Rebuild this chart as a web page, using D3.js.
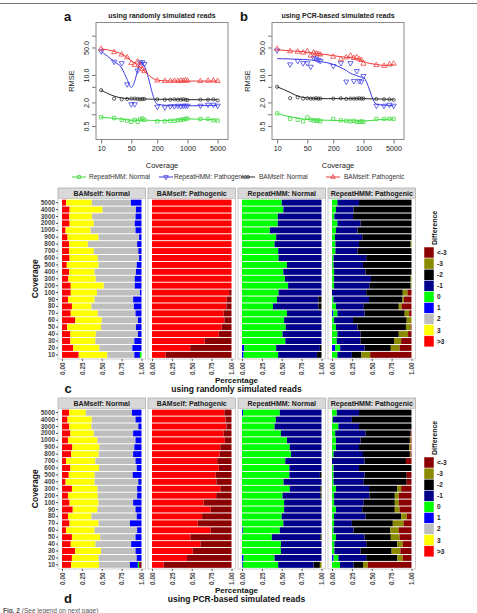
<!DOCTYPE html>
<html><head><meta charset="utf-8">
<script src="https://cdn.jsdelivr.net/npm/d3@7"></script>
<style>body{margin:0;background:#fff}svg{display:block;font-family:"Liberation Sans",Arial,sans-serif}</style>
</head><body>
<svg id="chart" width="477" height="613"></svg>
<script>
// ---------- line chart data (panels a, b) ----------
const coverage=[10,20,30,40,50,60,70,80,90,100,200,300,400,500,600,700,800,900,1000,2000,3000,4000,5000];
const xTickValues=[10,50,200,1000,5000];
const yTickMarks=[0.5,1,2,5,10,50,100];
const yTickLabels=[0.5,2,10,50];
const seriesNames=["RepeatHMM: Normal","RepeatHMM: Pathogenic","BAMself: Normal","BAMself: Pathogenic"];
const seriesColors=["#3cdc3c","#3a3ae8","#2a2a2a","#f03a3a"];
const seriesShapes=["square","down","circle","up"];

const aHmmNormal=[0.84,0.8,0.72,0.69,0.64,0.72,0.64,0.74,0.78,0.72,0.66,0.66,0.68,0.68,0.7,0.72,0.74,0.76,0.78,0.76,0.76,0.7,0.69];
const aHmmPath=[40,21.7,20,5.8,1.8,1.8,13,21,21,19,1.55,1.5,1.6,1.6,1.65,1.6,1.65,1.65,1.65,1.65,1.75,1.75,1.65];
const aBamNormal=[4.1,2.5,2.4,2.45,2.5,2.5,2.45,2.4,2.45,2.45,2.4,2.35,2.35,2.4,2.35,2.35,2.4,2.35,2.3,2.35,2.35,2.4,2.25];
const aBamPath=[46,38,33,28,20,18,22,17,14,12.5,7.2,7.0,7.0,7.1,7.0,7.2,7.1,7.3,7.1,7.0,7.1,7.2,7.0];
const aHmmNormalFit=[0.84,0.79,0.75,0.72,0.71,0.71,0.71,0.71,0.71,0.71,0.69,0.69,0.7,0.71,0.72,0.73,0.74,0.75,0.76,0.75,0.74,0.72,0.71];
const aHmmPathFit=[40,22,15,7.7,4.8,7,13,21,20,17,1.8,1.7,1.65,1.65,1.65,1.65,1.65,1.65,1.65,1.65,1.68,1.68,1.66];
const aBamNormalFit=[4.1,2.9,2.6,2.5,2.45,2.45,2.45,2.45,2.45,2.45,2.4,2.4,2.4,2.4,2.4,2.4,2.4,2.4,2.35,2.35,2.35,2.35,2.35];
const aBamPathFit=[46,40,34,28,23,20,18,16,14,12.5,7.4,7.1,7.0,7.0,7.0,7.0,7.0,7.0,7.0,7.0,7.0,7.0,7.0];

const bHmmNormal=[1.05,0.77,0.72,0.66,0.83,0.73,0.7,0.68,0.7,0.66,0.76,0.7,0.68,0.66,0.68,0.64,0.64,0.66,0.64,0.76,0.76,0.77,0.76];
const bHmmPath=[42,18.6,22.6,20,20,16.2,27.4,26,24,22.6,16.9,20,6.8,20,7.0,12.6,7.0,6.8,9.4,1.65,1.65,1.75,1.65];
const bBamNormal=[5.0,2.57,2.7,2.5,2.55,2.5,2.5,2.55,2.5,2.5,2.5,2.55,2.45,2.5,2.5,2.5,2.55,2.5,2.5,2.45,2.4,2.4,2.33];
const bBamPath=[46,40,39,37,40,31,37,35,34,33,29,25,28,31,27,28,25,24,19.3,17.9,17,18.6,19.3];
const bHmmNormalFit=[1.05,0.86,0.8,0.76,0.74,0.73,0.72,0.72,0.71,0.71,0.7,0.69,0.68,0.68,0.68,0.67,0.67,0.67,0.67,0.72,0.74,0.75,0.76];
const bHmmPathFit=[26,25.5,25,24.8,24.5,24,23.5,23,22.5,22,18.6,15.3,13,11,10.2,9.6,9.1,8.8,8.6,1.8,1.7,1.68,1.65];
const bBamNormalFit=[5.0,3.6,2.9,2.7,2.6,2.55,2.55,2.5,2.5,2.5,2.5,2.5,2.5,2.5,2.5,2.5,2.5,2.5,2.5,2.45,2.42,2.4,2.38];
const bBamPathFit=[44,41,40,39,38,37,36,35.5,35,34.5,31,29,28,27.5,27,26,25,23.5,22,18.5,17.5,17.8,18.5];

// ---------- stacked bar data (panels c, d) ----------
const diffKeys=[">3","3","2","1","0","-1","-2","-3","<-3"];
const diffColors=["#ff0000","#ffff00","#bebebe","#0000ff","#00ff00","#00008b","#000000","#8b8b00","#8b0000"];
const rowLabels=["5000","4000","3000","2000","1000","900","800","700","600","500","400","300","200","100","90","80","70","60","50","40","30","20","10"];
const facetNames=["BAMself: Normal","BAMself: Pathogenic","RepeatHMM: Normal","RepeatHMM: Pathogenic"];
const pctTicks=[0,0.25,0.5,0.75,1];

const cBamNormal=[
[.05,.325,.492,.133,0,0,0,0,0],[.096,.414,.42,.07,0,0,0,0,0],[.09,.29,.545,.075,0,0,0,0,0],[.096,.304,.515,.085,0,0,0,0,0],
[.045,.315,.565,.075,0,0,0,0,0],[.07,.39,.51,.03,0,0,0,0,0],[.09,.235,.62,.055,0,0,0,0,0],[.09,.31,.56,.04,0,0,0,0,0],
[.096,.354,.52,.03,0,0,0,0,0],[.06,.40,.48,.06,0,0,0,0,0],[.09,.32,.52,.07,0,0,0,0,0],[.08,.345,.49,.085,0,0,0,0,0],
[.11,.415,.39,.085,0,0,0,0,0],[.11,.33,.54,.02,0,0,0,0,0],[.075,.335,.485,.105,0,0,0,0,0],[.125,.245,.535,.095,0,0,0,0,0],
[.11,.34,.475,.075,0,0,0,0,0],[.165,.335,.455,.045,0,0,0,0,0],[.065,.425,.44,.07,0,0,0,0,0],[.105,.32,.53,.045,0,0,0,0,0],
[.105,.315,.49,.09,0,0,0,0,0],[.14,.33,.415,.115,0,0,0,0,0],[.21,.36,.34,.07,.02,0,0,0,0]];
const cBamPath=[
[1,0,0,0,0,0,0,0,0],[1,0,0,0,0,0,0,0,0],[1,0,0,0,0,0,0,0,0],[1,0,0,0,0,0,0,0,0],[1,0,0,0,0,0,0,0,0],
[1,0,0,0,0,0,0,0,0],[1,0,0,0,0,0,0,0,0],[1,0,0,0,0,0,0,0,0],[1,0,0,0,0,0,0,0,0],[1,0,0,0,0,0,0,0,0],
[1,0,0,0,0,0,0,0,0],[1,0,0,0,0,0,0,0,0],[1,0,0,0,0,0,0,0,0],[.97,0,0,0,0,0,0,0,.03],[.94,0,0,0,0,0,0,0,.06],
[.935,0,0,0,0,0,0,0,.065],[.90,0,0,0,0,0,0,0,.10],[.91,0,0,0,0,0,0,0,.09],[.875,0,0,0,0,0,0,0,.125],
[.84,0,0,0,0,0,0,0,.16],[.66,0,0,0,0,0,0,0,.34],[.48,0,0,0,0,0,0,0,.52],[.17,0,0,0,0,0,0,0,.83]];
const cHmmNormal=[
[0,0,0,0,.50,.50,0,0,0],[0,0,0,0,.52,.48,0,0,0],[0,0,0,0,.45,.55,0,0,0],[0,0,0,0,.45,.55,0,0,0],
[0,0,0,0,.35,.65,0,0,0],[0,0,0,0,.43,.57,0,0,0],[0,0,0,0,.41,.59,0,0,0],[0,0,0,0,.455,.545,0,0,0],
[0,0,0,0,.46,.54,0,0,0],[0,0,0,0,.565,.435,0,0,0],[0,0,0,0,.52,.48,0,0,0],[0,0,0,0,.54,.46,0,0,0],
[0,0,0,0,.58,.42,0,0,0],[0,0,0,0,.46,.54,0,0,0],[0,0,0,0,.44,.52,.04,0,0],[0,0,0,0,.39,.57,.04,0,0],
[0,0,0,0,.565,.435,0,0,0],[0,0,0,0,.53,.47,0,0,0],[0,0,0,0,.55,.45,0,0,0],[0,0,0,0,.51,.49,0,0,0],
[0,0,0,0,.545,.455,0,0,0],[0,0,0,.03,.40,.55,.02,0,0],[0,0,0,.02,.435,.49,.055,0,0]];
const cHmmPath=[
[0,0,0,0,.068,.272,.66,0,0],[0,0,0,0,.05,.22,.73,0,0],[0,0,0,0,.03,.235,.735,0,0],[0,0,0,0,.068,.292,.64,0,0],
[0,0,0,0,.05,.27,.68,0,0],[0,0,0,0,.038,.342,.62,0,0],[0,0,0,0,.043,.297,.65,.01,0],[0,0,0,0,.043,.277,.68,0,0],
[0,0,0,0,.02,.41,.57,0,0],[0,0,0,0,.02,.37,.61,0,0],[0,0,0,0,.026,.394,.58,0,0],[0,0,0,0,.026,.464,.50,.01,0],
[0,0,0,0,.026,.444,.52,.01,0],[0,0,0,0,0,.43,.46,.06,.05],[0,0,0,0,.017,.449,.42,.02,.094],[0,0,0,0,.05,.35,.44,.036,.124],
[0,0,0,.017,.051,.342,.505,.055,.03],[0,0,0,0,.026,.239,.675,.06,0],[0,0,0,0,.05,.27,.61,.06,.01],[0,0,0,0,.068,.292,.48,.117,.043],
[0,0,0,0,.06,.30,.42,.09,.13],[0,0,0,.04,.063,.307,.33,.11,.15],[0,0,0,0,.068,.182,.12,.11,.52]];

const dBamNormal=[
[.09,.21,.58,.12,0,0,0,0,0],[.07,.305,.55,.075,0,0,0,0,0],[.09,.28,.59,.04,0,0,0,0,0],[.105,.295,.495,.105,0,0,0,0,0],
[.075,.37,.48,.075,0,0,0,0,0],[.13,.34,.44,.09,0,0,0,0,0],[.115,.345,.435,.105,0,0,0,0,0],[.05,.37,.505,.075,0,0,0,0,0],
[.105,.36,.475,.06,0,0,0,0,0],[.085,.325,.48,.11,0,0,0,0,0],[.045,.365,.55,.04,0,0,0,0,0],[.125,.32,.50,.055,0,0,0,0,0],
[.075,.375,.495,.055,0,0,0,0,0],[.095,.365,.435,.105,0,0,0,0,0],[.135,.31,.48,.075,0,0,0,0,0],[.075,.295,.57,.06,0,0,0,0,0],
[.095,.365,.395,.145,0,0,0,0,0],[.05,.36,.535,.055,0,0,0,0,0],[.125,.355,.445,.075,0,0,0,0,0],[.11,.31,.45,.13,0,0,0,0,0],
[.165,.325,.435,.075,0,0,0,0,0],[.125,.335,.48,.06,0,0,0,0,0],[.115,.35,.39,.10,.015,0,0,0,.03]];
const dBamPath=[
[.91,0,0,0,0,0,0,0,.09],[.925,0,0,0,0,0,0,0,.075],[.937,0,0,0,0,0,0,0,.063],[.90,0,0,0,0,0,0,0,.10],
[.916,0,0,0,0,0,0,0,.084],[.86,0,0,0,0,0,0,0,.14],[.85,0,0,0,0,0,0,0,.15],[.82,0,0,0,0,0,0,0,.18],
[.84,0,0,0,0,0,0,0,.16],[.80,0,0,0,0,0,0,0,.20],[.81,0,0,0,0,0,0,0,.19],[.86,0,0,0,0,0,0,0,.14],
[.807,0,0,0,0,0,0,0,.193],[.65,0,0,0,0,0,0,0,.35],[.735,0,0,0,0,0,0,0,.265],[.63,0,0,0,0,0,0,0,.37],
[.576,0,0,0,0,0,0,0,.424],[.735,0,0,0,0,0,0,0,.265],[.483,0,0,0,0,0,0,0,.517],[.61,0,0,0,0,0,0,0,.39],
[.513,0,0,0,0,0,0,0,.487],[.44,0,0,0,0,0,0,0,.56],[.147,0,0,0,0,0,0,0,.853]];
const dHmmNormal=[
[0,0,0,.013,.462,.525,0,0,0],[0,0,0,0,.425,.575,0,0,0],[0,0,0,0,.41,.59,0,0,0],[0,0,0,0,.49,.51,0,0,0],
[0,0,0,0,.565,.435,0,0,0],[0,0,0,0,.60,.40,0,0,0],[0,0,0,0,.617,.383,0,0,0],[0,0,0,0,.545,.455,0,0,0],
[0,0,0,0,.596,.404,0,0,0],[0,0,0,0,.596,.384,.02,0,0],[0,0,0,0,.523,.477,0,0,0],[0,0,0,0,.60,.385,.015,0,0],
[0,0,0,0,.51,.475,.015,0,0],[0,0,0,0,.53,.47,0,0,0],[0,0,0,0,.53,.47,0,0,0],[0,0,0,0,.50,.50,0,0,0],
[0,0,0,0,.52,.48,0,0,0],[0,0,0,.01,.465,.525,0,0,0],[0,0,0,0,.375,.61,.015,0,0],[0,0,0,0,.49,.51,0,0,0],
[0,0,0,0,.49,.51,0,0,0],[0,0,0,.02,.39,.59,0,0,0],[0,0,0,.01,.445,.445,.08,.02,0]];
const dHmmPath=[
[0,0,0,0,.06,.28,.66,0,0],[0,0,0,0,.01,.24,.75,0,0],[0,0,0,0,.08,.26,.66,0,0],[0,0,0,0,.04,.38,.57,0,.01],
[0,0,0,0,.05,.31,.62,.01,.01],[0,0,0,0,.05,.29,.63,.02,.01],[0,0,0,0,.02,.37,.59,.01,.01],[0,0,0,0,0,.41,.52,0,.07],
[0,0,0,0,.02,.32,.66,0,0],[0,0,0,0,.02,.39,.53,0,.06],[0,0,0,0,.02,.38,.54,0,.06],[0,0,0,0,.05,.416,.354,.05,.13],
[0,0,0,0,.026,.444,.32,.05,.16],[0,0,0,0,.026,.374,.39,.05,.16],[0,0,0,0,.05,.33,.41,.06,.15],[0,0,0,0,.026,.394,.45,.07,.06],
[0,0,0,0,.026,.224,.515,.135,.10],[0,0,0,0,.02,.25,.465,.105,.16],[0,0,0,0,.05,.36,.33,.11,.15],[0,0,0,0,.03,.40,.39,.07,.11],
[0,0,0,0,.03,.33,.39,.11,.14],[0,0,0,.02,.06,.35,.39,.07,.11],[0,0,0,0,.10,.17,.12,.06,.55]];

// ---------- drawing ----------
const svg=d3.select("#chart");
svg.append("line").attr("x1",0).attr("x2",477).attr("y1",3.5).attr("y2",3.5).attr("stroke","#777").attr("stroke-width",1);

function markerPath(shape,size){
  if(shape==="square") return d3.symbol(d3.symbolSquare,size)();
  if(shape==="circle") return d3.symbol(d3.symbolCircle,size*0.75)();
  return d3.symbol(d3.symbolTriangle,size*1.05)();
}

function linePanel(left,letter,title,points,fits){
  const top=22.5,h=117,w=132;
  const x=d3.scaleLog().domain([7.6,8700]).range([left,left+w]);
  const y=d3.scaleLog().domain([0.228,216]).range([top+h,top]);
  const g=svg.append("g");
  g.append("text").attr("x",left-32).attr("y",20.5).attr("font-size",13).attr("font-weight","bold").attr("fill","#111").text(letter);
  g.append("text").attr("x",left+w/2).attr("y",17.5).attr("text-anchor","middle").attr("font-size",7).attr("font-weight","bold").attr("fill","#222").text(title);
  const ya=g.append("g").attr("transform",`translate(${left},0)`)
    .call(d3.axisLeft(y).tickValues(yTickMarks).tickSize(4).tickFormat(v=>yTickLabels.includes(v)?d3.format(".1f")(v):""));
  ya.select(".domain").remove();
  ya.selectAll("line").attr("stroke","#777");
  ya.selectAll("text").attr("transform","rotate(-90)").attr("x",0).attr("y",-7.5).attr("dy",0).attr("text-anchor","middle")
    .attr("font-size",7.2).attr("font-family","Liberation Sans, Arial, sans-serif").attr("fill","#222");
  const xa=g.append("g").attr("transform",`translate(0,${top+h})`)
    .call(d3.axisBottom(x).tickValues(xTickValues).tickSize(4).tickFormat(d3.format("d")));
  xa.select(".domain").remove();
  xa.selectAll("line").attr("stroke","#777");
  xa.selectAll("text").attr("font-size",7.2).attr("font-family","Liberation Sans, Arial, sans-serif").attr("fill","#222").attr("y",6.5);
  g.append("rect").attr("x",left).attr("y",top).attr("width",w).attr("height",h).attr("fill","none").attr("stroke","#8a8a8a").attr("stroke-width",1);
  g.append("text").attr("transform",`translate(${left-22.5},${top+h/2}) rotate(-90)`).attr("text-anchor","middle").attr("font-size",7.5).attr("fill","#222").text("RMSE");
  g.append("text").attr("x",left+w/2).attr("y",168).attr("text-anchor","middle").attr("font-size",7.5).attr("fill","#222").text("Coverage");
  const line=d3.line().x((d,i)=>x(coverage[i])).y(d=>y(d)).curve(d3.curveMonotoneX);
  fits.forEach((f,s)=>{
    g.append("path").attr("d",line(f)).attr("fill","none").attr("stroke",seriesColors[s]).attr("stroke-width",1);
  });
  points.forEach((p,s)=>{
    g.append("g").selectAll("path").data(p).join("path")
      .attr("d",markerPath(seriesShapes[s],11))
      .attr("transform",(d,i)=>`translate(${x(coverage[i])},${y(d)})`+(seriesShapes[s]==="down"?" rotate(180)":""))
      .attr("fill","none").attr("stroke",seriesColors[s]).attr("stroke-width",0.75);
  });
}
linePanel(96,"a","using randomly simulated reads",[aHmmNormal,aHmmPath,aBamNormal,aBamPath],[aHmmNormalFit,aHmmPathFit,aBamNormalFit,aBamPathFit]);
linePanel(272,"b","using PCR-based simulated reads",[bHmmNormal,bHmmPath,bBamNormal,bBamPath],[bHmmNormalFit,bHmmPathFit,bBamNormalFit,bBamPathFit]);

// legend for line charts
const legX=[79,166,248,333], legTX=[89,174,259,344];
seriesNames.forEach((n,s)=>{
  const g=svg.append("g");
  g.append("line").attr("x1",legX[s]-7).attr("x2",legX[s]+7).attr("y1",177).attr("y2",177).attr("stroke",seriesColors[s]).attr("stroke-width",1);
  g.append("path").attr("d",markerPath(seriesShapes[s],9)).attr("transform",`translate(${legX[s]},177)`+(seriesShapes[s]==="down"?" rotate(180)":""))
    .attr("fill","none").attr("stroke",seriesColors[s]).attr("stroke-width",0.8);
  g.append("text").attr("x",legTX[s]).attr("y",179.3).attr("font-size",6.5).attr("fill","#333").text(n);
});

// stacked bar panels
function barPanel(stripTop,letter,subtitle,facets){
  const fw=87.5, stripH=10.5, panelH=160.5;
  const pTop=stripTop+stripH, pBot=pTop+panelH;
  const y=d3.scaleBand().domain(rowLabels).range([pTop,pBot]).paddingInner(0.14).paddingOuter(0.17);
  const stack=d3.stack().keys(diffKeys);
  facets.forEach((data,f)=>{
    const L=58+f*90;
    const x=d3.scaleLinear().domain([0,1]).range([L+4,L+fw-4]);
    const g=svg.append("g");
    g.append("rect").attr("x",L).attr("y",stripTop).attr("width",fw).attr("height",stripH).attr("fill","#d9d9d9").attr("stroke","#b0b0b0").attr("stroke-width",0.8);
    g.append("text").attr("x",L+fw/2).attr("y",stripTop+7.8).attr("text-anchor","middle").attr("font-size",7).attr("font-weight","bold").attr("fill","#1a1a1a").text(facetNames[f]);
    g.append("rect").attr("x",L).attr("y",pTop).attr("width",fw).attr("height",panelH).attr("fill","#fff").attr("stroke","#c4c4c4").attr("stroke-width",0.8);
    const rows=data.map((r,i)=>{const o={row:rowLabels[i]};diffKeys.forEach((k,j)=>o[k]=r[j]);return o;});
    const series=stack(rows);
    series.forEach((s,k)=>{
      g.append("g").selectAll("rect").data(s).join("rect")
        .attr("x",d=>x(d[0])).attr("width",d=>Math.max(0,x(d[1])-x(d[0])))
        .attr("y",d=>y(d.data.row)).attr("height",y.bandwidth())
        .attr("fill",diffColors[k]);
    });
    const xa=g.append("g").attr("transform",`translate(0,${pBot})`)
      .call(d3.axisBottom(x).tickValues(pctTicks).tickSize(2).tickFormat(d3.format(".2f")));
    xa.select(".domain").remove();
    xa.selectAll("line").attr("stroke","#555");
    xa.selectAll("text").attr("transform","rotate(-90)").attr("x",-3.5).attr("y",0).attr("dy","0.35em").attr("text-anchor","end")
      .attr("font-size",6.4).attr("font-weight","bold").attr("font-family","Liberation Sans, Arial, sans-serif").attr("fill","#444");
    if(f===0){
      const ya=g.append("g").attr("transform",`translate(${L},0)`).call(d3.axisLeft(y).tickSize(2));
      ya.select(".domain").remove();
      ya.selectAll("line").attr("stroke","#555");
      ya.selectAll("text").attr("x",-3).attr("font-size",6.4).attr("font-weight","bold").attr("font-family","Liberation Sans, Arial, sans-serif").attr("fill","#444");
    }
  });
  svg.append("text").attr("transform",`translate(38,${(pTop+pBot)/2}) rotate(-90)`).attr("text-anchor","middle").attr("font-size",8.5).attr("font-weight","bold").attr("fill","#111").text("Coverage");
  svg.append("text").attr("x",236.5).attr("y",stripTop+195).attr("text-anchor","middle").attr("font-size",8).attr("font-weight","bold").attr("fill","#111").text("Percentage");
  svg.append("text").attr("x",236.5).attr("y",stripTop+204).attr("text-anchor","middle").attr("font-size",8.5).attr("font-weight","bold").attr("fill","#111").text(subtitle);
  svg.append("text").attr("x",68).attr("y",stripTop+204.5).attr("text-anchor","middle").attr("font-size",13).attr("font-weight","bold").attr("fill","#111").text(letter);
  // legend
  const kTop=stripTop+59, kH=11.1;
  const legendKeys=diffKeys.slice().reverse();
  const lg=svg.append("g");
  lg.append("text").attr("transform",`translate(437,${kTop-2}) rotate(-90)`).attr("text-anchor","start").attr("font-size",7).attr("font-weight","bold").attr("fill","#111").text("Difference");
  legendKeys.forEach((k,i)=>{
    lg.append("rect").attr("x",424).attr("y",kTop+i*kH).attr("width",10).attr("height",kH).attr("fill",diffColors[diffKeys.indexOf(k)]).attr("stroke","#fff").attr("stroke-width",0.5);
    lg.append("text").attr("x",437).attr("y",kTop+i*kH+kH/2).attr("dy","0.35em").attr("font-size",6.5).attr("font-weight","bold").attr("fill","#222").text(k);
  });
}
barPanel(188,"c","using randomly simulated reads",[cBamNormal,cBamPath,cHmmNormal,cHmmPath]);
barPanel(398,"d","using PCR-based simulated reads",[dBamNormal,dBamPath,dHmmNormal,dHmmPath]);

const ft=svg.append("text").attr("x",3).attr("y",612.5).attr("font-size",6.5).attr("fill","#555");
ft.append("tspan").attr("font-weight","bold").text("Fig. 2");
ft.append("tspan").text(" (See legend on next page)");
</script>
</body></html>
